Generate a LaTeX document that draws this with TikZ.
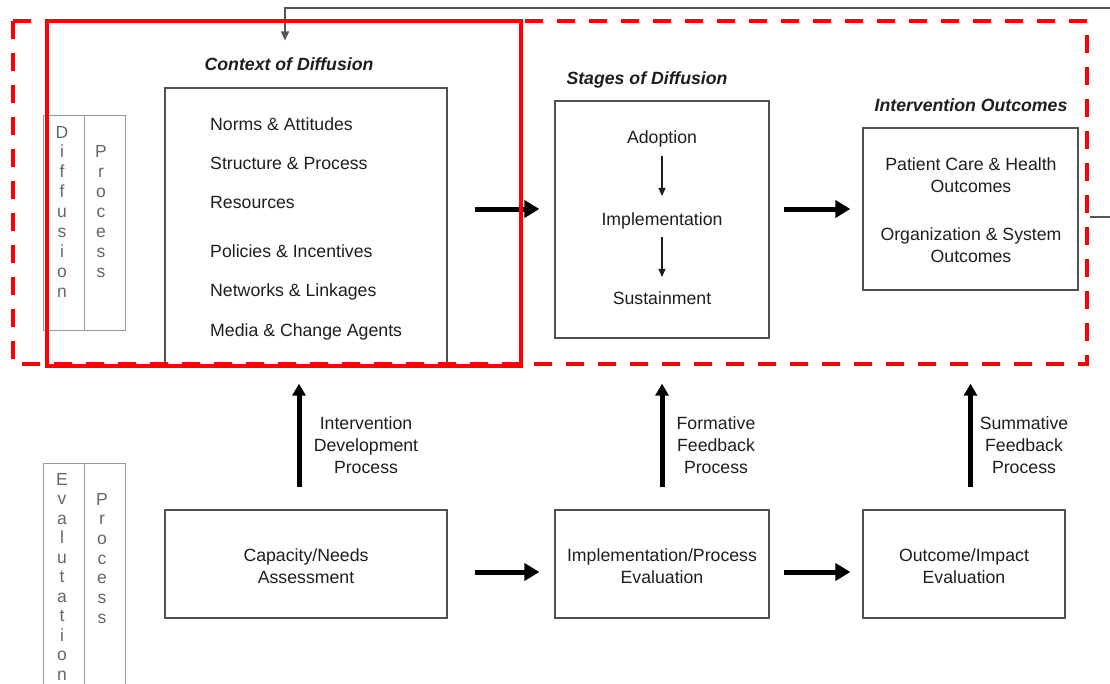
\documentclass[tikz,border=0pt]{standalone}
\usepackage{fontspec}
\setmainfont{Liberation Sans}
\usetikzlibrary{arrows.meta,calc}
\definecolor{boxgray}{HTML}{505050}
\definecolor{lblgray}{HTML}{9A9A9A}
\definecolor{txt}{HTML}{1E1E1E}
\definecolor{lettergray}{HTML}{666666}
\definecolor{fbgray}{HTML}{555555}
\begin{document}
\begin{tikzpicture}[x=1pt,y=-1pt,
  box/.style={draw=boxgray, line width=1.3pt, inner sep=0pt, fill=none},
  lblbox/.style={draw=lblgray, line width=1pt, inner sep=0pt},
  lbl/.style={font=\fontsize{17.7}{22}\selectfont, text=txt, inner sep=0pt, align=center},
  ttl/.style={font=\fontsize{17.7}{22}\selectfont\bfseries\itshape, text=txt, inner sep=0pt},
  vlet/.style={font=\fontsize{17.5}{20}\selectfont, text=lettergray, inner sep=0pt, anchor=base},
  fat/.style={line width=5pt, draw=black, -{Triangle[length=15pt,width=17pt]}},
  fatv/.style={line width=5pt, draw=black, -{Triangle[length=12pt,width=13pt]}},
  smallarrow/.style={line width=1.2pt, draw=txt, -{Triangle[length=8pt,width=7pt]}},
  fbline/.style={line width=1.5pt, draw=fbgray},
  reddash/.style={draw=red, line width=4pt, dash pattern=on 18pt off 14pt},
  redsolid/.style={draw=red, line width=4pt}
]
\useasboundingbox (0,0) rectangle (1110,683);

% side label boxes
\node[lblbox, minimum width=82pt, minimum height=215pt] (dlab) at (84,222.5) {};
\draw[draw=lblgray, line width=1pt] (dlab.north) -- (dlab.south);
\foreach \l [count=\i from 0] in {D,i,f,f,u,s,i,o,n}
  \node[vlet] (dl\i) at (62,138+\i*19.9) {\l};
\foreach \l [count=\i from 0] in {P,r,o,c,e,s,s}
  \node[vlet] (dp\i) at (101,157+\i*20) {\l};

\node[lblbox, minimum width=82pt, minimum height=230pt] (elab) at (84,578) {};
\draw[draw=lblgray, line width=1pt] (elab.north) -- (elab.south);
\foreach \l [count=\i from 0] in {E,v,a,l,u,t,a,t,i,o,n}
  \node[vlet] (el\i) at (62,485+\i*19.5) {\l};
\foreach \l [count=\i from 0] in {P,r,o,c,e,s,s}
  \node[vlet] (ep\i) at (102,505+\i*19.7) {\l};

% Context of diffusion
\node[ttl, anchor=base] (ctxttl) at (289,70.5) {Context of Diffusion};
\node[box, minimum width=282pt, minimum height=277pt] (ctx) at (306,226.5) {};
\node[lbl, anchor=base west] (c1) at (210,130) {Norms \& Attitudes};
\node[lbl, anchor=base west] (c2) at (210,169) {Structure \& Process};
\node[lbl, anchor=base west] (c3) at (210,208) {Resources};
\node[lbl, anchor=base west] (c4) at (210,257) {Policies \& Incentives};
\node[lbl, anchor=base west] (c5) at (210,296) {Networks \& Linkages};
\node[lbl, anchor=base west] (c6) at (210,336) {Media \& Change Agents};

% Stages of diffusion
\node[ttl, anchor=base] (stgttl) at (647,84.5) {Stages of Diffusion};
\node[box, minimum width=214pt, minimum height=237pt] (stg) at (662,219.5) {};
\node[lbl, anchor=base] (s1) at (662,143) {Adoption};
\node[lbl, anchor=base] (s2) at (662,225) {Implementation};
\node[lbl, anchor=base] (s3) at (662,304) {Sustainment};
\draw[smallarrow, shorten <=9pt, shorten >=16pt] (s1.south) -- (s2.north);
\draw[smallarrow, shorten <=8pt, shorten >=14pt] (s2.south) -- (s3.north);

% Intervention outcomes
\node[ttl, anchor=base] (outttl) at (971,111) {Intervention Outcomes};
\node[box, minimum width=215pt, minimum height=162pt] (outc) at (970.5,209) {};
\node[lbl, anchor=base] (o1) at (971,192) {Patient Care \& Health\\Outcomes};
\node[lbl, anchor=base] (o2) at (971,262) {Organization \& System\\Outcomes};

% bottom row
\node[box, minimum width=282pt, minimum height=108pt] (cap) at (306,564) {};
\node[lbl, anchor=base] (capt) at (306,583) {Capacity/Needs\\Assessment};
\node[box, minimum width=214pt, minimum height=108pt] (impl) at (662,564) {};
\node[lbl, anchor=base] (implt) at (662,583) {Implementation/Process\\Evaluation};
\node[box, minimum width=202pt, minimum height=108pt] (imp) at (964,564) {};
\node[lbl, anchor=base] (impt) at (964,583) {Outcome/Impact\\Evaluation};

% arrow labels
\node[lbl, anchor=base] (a1) at (366,473) {Intervention\\Development\\Process};
\node[lbl, anchor=base] (a2) at (716,473) {Formative\\Feedback\\Process};
\node[lbl, anchor=base] (a3) at (1024,473) {Summative\\Feedback\\Process};

% thick arrows
\draw[fat, shorten <=27pt, shorten >=15pt] (ctx.east |- outc.west) -- (stg.west |- outc.west);
\draw[fat, shorten <=14pt, shorten >=12pt] (stg.east |- outc.west) -- (outc.west);
\draw[fat, shorten <=27pt, shorten >=15pt] ([yshift=-8pt]cap.east) -- ([yshift=-8pt]impl.west);
\draw[fat, shorten <=14pt, shorten >=12pt] ([yshift=-8pt]impl.east) -- ([yshift=-8pt]imp.west);
\draw[fatv, shorten <=22pt, shorten >=18pt] ([xshift=-7pt]cap.north) -- ([xshift=-7pt]ctx.south);
\draw[fatv, shorten <=22pt, shorten >=45pt] (impl.north) -- (stg.south);
\draw[fatv, shorten <=22pt, shorten >=93pt] (imp.north -| outc.south) -- (outc.south);

% feedback line
\coordinate (fbtop) at (1110,8);
\coordinate (fbR1) at (1090,217);
\coordinate (fbR2) at (1110,217);
\draw[fbline, -{Triangle[length=9pt,width=8pt]}, shorten >=17pt] (fbtop) -| ([xshift=-4pt]ctxttl.north);
\draw[fbline] (fbR1) -- (fbR2);

% red outlines
\draw[reddash] (13,21) rectangle (1087,364);
\draw[redsolid] (47,21) rectangle (521,366);
\end{tikzpicture}
\end{document}
